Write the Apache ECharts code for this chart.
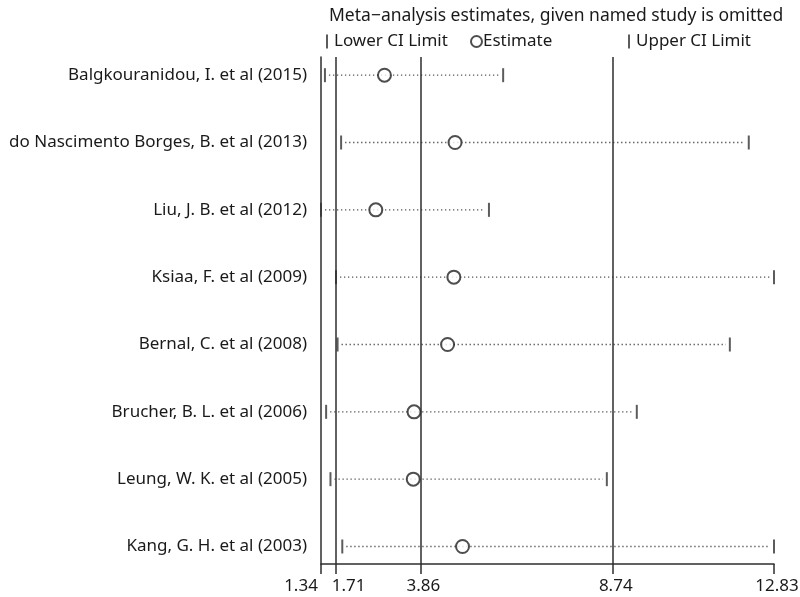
<!DOCTYPE html>
<html>
<head>
<meta charset="utf-8">
<script src="https://cdn.jsdelivr.net/npm/echarts@6/dist/echarts.min.js"></script>
<style>
  html, body { margin: 0; padding: 0; background: #fff; }
  #chart { width: 800px; height: 597px; }
</style>
</head>
<body>
<div id="chart"></div>
<script>
// 每个研究剔除后的合并估计 (meta-analysis influence plot)
const studies = [
  'Balgkouranidou, I. et al (2015)',
  'do Nascimento Borges, B. et al (2013)',
  'Liu, J. B. et al (2012)',
  'Ksiaa, F. et al (2009)',
  'Bernal, C. et al (2008)',
  'Brucher, B. L. et al (2006)',
  'Leung, W. K. et al (2005)',
  'Kang, G. H. et al (2003)'
]
const lowerCI  = [1.44, 1.85, 1.34, 1.72, 1.76, 1.47, 1.58, 1.88]
const estimate = [2.95, 4.74, 2.73, 4.71, 4.55, 3.70, 3.68, 4.93]
const upperCI  = [5.96, 12.19, 5.60, 12.83, 11.71, 9.35, 8.59, 12.83]
// 总体估计: 下限, 估计, 上限
const overall = [1.71, 3.86, 8.74]
const xTicks = [1.34, 1.71, 3.86, 8.74, 12.83]

const font = 'Noto Sans'
const fs = 17
const ink = '#1a1a1a'
const lineCol = '#2e2e2e'

// 标签偏移(避免 1.34 和 1.71 重叠)
const labelShift = {'1.34': 'a', '1.71': 'b'}

let option = {
  animation: false,
  textStyle: { fontFamily: font },
  title: {
    text: 'Meta\u2212analysis estimates, given named study is omitted',
    left: 324,
    top: 2,
    textStyle: { fontFamily: font, fontSize: 17.5, fontWeight: 'normal', color: ink }
  },
  legend: [
    {
      data: [{ name: 'Lower CI Limit', icon: 'rect' }],
      left: 321, top: 28,
      itemWidth: 2, itemHeight: 14,
      textStyle: { fontFamily: font, fontSize: fs, color: ink, padding: [0, 0, 0, 1] }
    },
    {
      data: [{ name: 'Estimate', icon: 'emptyCircle' }],
      left: 465, top: 28,
      itemWidth: 11, itemHeight: 11,
      textStyle: { fontFamily: font, fontSize: fs, color: ink, padding: [0, 0, 0, -4] }
    },
    {
      data: [{ name: 'Upper CI Limit', icon: 'rect' }],
      left: 623, top: 28,
      itemWidth: 2, itemHeight: 14,
      textStyle: { fontFamily: font, fontSize: fs, color: ink, padding: [0, 0, 0, 1] }
    }
  ],
  grid: { left: 321, right: 26, top: 57, bottom: 33, containLabel: false, outerBoundsMode: 'none' },
  xAxis: {
    type: 'value',
    min: 1.34,
    max: 12.83,
    axisLine: { show: true, onZero: false, lineStyle: { color: lineCol, width: 1.5 } },
    axisTick: { show: true, customValues: xTicks, length: 10, lineStyle: { color: lineCol, width: 1.5 } },
    axisLabel: {
      customValues: xTicks,
      margin: 14,
      fontFamily: font,
      fontSize: fs,
      color: ink,
      formatter: function (v) {
        let s = v.toFixed(2)
        let k = labelShift[s] || 'c'
        return '{' + k + '|' + s + '}'
      },
      rich: {
        a: { fontFamily: font, fontSize: fs, color: ink, padding: [0, 40, 0, 0] },
        b: { fontFamily: font, fontSize: fs, color: ink, padding: [0, 0, 0, 26] },
        c: { fontFamily: font, fontSize: fs, color: ink, padding: [0, 0, 0, 6] }
      }
    },
    splitLine: { show: false }
  },
  yAxis: {
    type: 'value',
    inverse: true,
    min: -0.27,
    max: 7.26,
    axisLine: { show: true, onZero: false, lineStyle: { color: lineCol, width: 1.5 } },
    axisTick: { show: false },
    axisLabel: {
      customValues: [0, 1, 2, 3, 4, 5, 6, 7],
      margin: 14,
      fontFamily: font,
      fontSize: 17,
      color: ink,
      formatter: function (v) { return studies[v] }
    },
    splitLine: { show: false }
  },
  series: [
    {
      // 虚线置信区间
      type: 'custom',
      silent: true,
      z: 1,
      data: studies.map((s, i) => [lowerCI[i], upperCI[i], i]),
      renderItem: function (params, api) {
        let p1 = api.coord([api.value(0), api.value(2)])
        let p2 = api.coord([api.value(1), api.value(2)])
        return {
          type: 'line',
          shape: { x1: p1[0] + 4, y1: p1[1], x2: p2[0] - 4, y2: p2[1] },
          style: { stroke: '#555', lineWidth: 1.3, lineDash: [1.3, 2.7] }
        }
      }
    },
    {
      name: 'Lower CI Limit',
      type: 'scatter',
      z: 3,
      symbol: 'rect',
      symbolSize: [2, 14],
      itemStyle: { color: '#333' },
      data: lowerCI.map((v, i) => [v, i])
    },
    {
      name: 'Upper CI Limit',
      type: 'scatter',
      z: 3,
      symbol: 'rect',
      symbolSize: [2, 14],
      itemStyle: { color: '#333' },
      data: upperCI.map((v, i) => [v, i])
    },
    {
      name: 'Estimate',
      type: 'scatter',
      z: 4,
      symbol: 'emptyCircle',
      symbolSize: 13,
      itemStyle: { color: '#222', borderColor: '#222', borderWidth: 1.5 },
      data: estimate.map((v, i) => [v, i]),
      markLine: {
        silent: true,
        symbol: 'none',
        label: { show: false },
        lineStyle: { color: lineCol, width: 1.5, type: 'solid' },
        data: overall.map(v => ({ xAxis: v }))
      }
    }
  ]
}

echarts.init(document.getElementById('chart')).setOption(option)
</script>
</body>
</html>
